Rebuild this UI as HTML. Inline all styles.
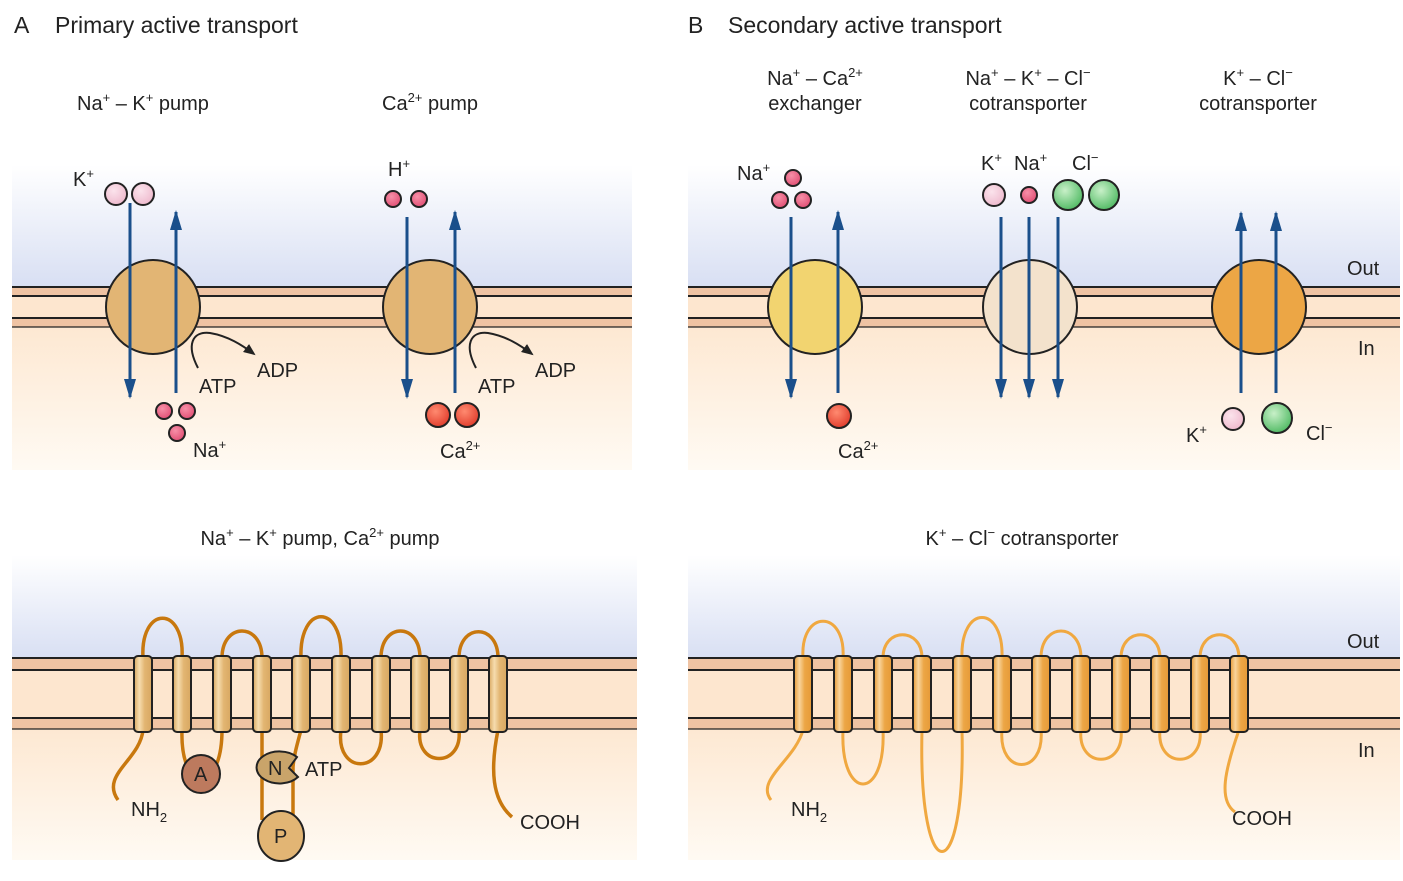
<!DOCTYPE html>
<html><head><meta charset="utf-8"><style>
html,body{margin:0;padding:0;background:#fff;}
svg{display:block;}
text{font-family:"Liberation Sans",sans-serif;fill:#222;font-size:20px;}
.sm{font-size:13px;}
</style></head><body>
<svg width="1403" height="881" viewBox="0 0 1403 881" xmlns="http://www.w3.org/2000/svg">
<defs>
<linearGradient id="gt" x1="0" y1="0" x2="0" y2="1">
<stop offset="0" stop-color="#ffffff"/><stop offset="0.4" stop-color="#d8dff3"/>
<stop offset="0.53" stop-color="#fde8d2"/><stop offset="1" stop-color="#fffaf3"/></linearGradient>
<linearGradient id="gb" x1="0" y1="0" x2="0" y2="1">
<stop offset="0" stop-color="#ffffff"/><stop offset="0.34" stop-color="#d8dff3"/>
<stop offset="0.57" stop-color="#fde8d2"/><stop offset="1" stop-color="#fffaf3"/></linearGradient>
<linearGradient id="hA" x1="0" y1="0" x2="1" y2="0"><stop offset="0" stop-color="#d9a860"/><stop offset="0.3" stop-color="#f6dcae"/><stop offset="0.6" stop-color="#e2b571"/><stop offset="1" stop-color="#d8a862"/></linearGradient>
<linearGradient id="hB" x1="0" y1="0" x2="1" y2="0"><stop offset="0" stop-color="#e89a35"/><stop offset="0.3" stop-color="#f8d49c"/><stop offset="0.6" stop-color="#eca645"/><stop offset="1" stop-color="#e69a38"/></linearGradient>
<radialGradient id="gp" cx="0.4" cy="0.35" r="0.7"><stop offset="0" stop-color="#fbe3ec"/><stop offset="1" stop-color="#eeb8cc"/></radialGradient>
<radialGradient id="gk" cx="0.4" cy="0.35" r="0.7"><stop offset="0" stop-color="#f790a8"/><stop offset="1" stop-color="#e04c72"/></radialGradient>
<radialGradient id="gr" cx="0.4" cy="0.35" r="0.7"><stop offset="0" stop-color="#ff8a70"/><stop offset="1" stop-color="#e03a2a"/></radialGradient>
<radialGradient id="gg" cx="0.4" cy="0.35" r="0.7"><stop offset="0" stop-color="#c8f0c8"/><stop offset="1" stop-color="#4cb860"/></radialGradient>
<marker id="ar" viewBox="0 0 20 12" refX="18" refY="6" markerWidth="20" markerHeight="12" markerUnits="userSpaceOnUse" orient="auto">
<path d="M0 0 L20 6 L0 12 Z" fill="#1a4f8b"/></marker>
<marker id="bk" viewBox="0 0 12 10" refX="10" refY="5" markerWidth="12" markerHeight="10" markerUnits="userSpaceOnUse" orient="auto">
<path d="M0 0 L12 5 L0 10 Z" fill="#222"/></marker>
</defs>

<rect x="12" y="165" width="620" height="305" fill="url(#gt)"/>
<rect x="688" y="165" width="712" height="305" fill="url(#gt)"/>
<rect x="12" y="555" width="625" height="305" fill="url(#gb)"/>
<rect x="688" y="555" width="712" height="305" fill="url(#gb)"/>

<g stroke="#222" stroke-width="2">
<rect x="12" y="287" width="620" height="40" fill="#fde6cf" stroke="none"/>
<rect x="12" y="287" width="620" height="9" fill="#efc3a3" stroke="none"/>
<rect x="12" y="318" width="620" height="9" fill="#efc3a3" stroke="none"/>
<line x1="12" y1="287" x2="632" y2="287"/><line x1="12" y1="296" x2="632" y2="296"/>
<line x1="12" y1="318" x2="632" y2="318"/><line x1="12" y1="327" x2="632" y2="327" stroke-width="1.2"/>
<rect x="688" y="287" width="712" height="40" fill="#fde6cf" stroke="none"/>
<rect x="688" y="287" width="712" height="9" fill="#efc3a3" stroke="none"/>
<rect x="688" y="318" width="712" height="9" fill="#efc3a3" stroke="none"/>
<line x1="688" y1="287" x2="1400" y2="287"/><line x1="688" y1="296" x2="1400" y2="296"/>
<line x1="688" y1="318" x2="1400" y2="318"/><line x1="688" y1="327" x2="1400" y2="327" stroke-width="1.2"/>

<rect x="12" y="658" width="625" height="71" fill="#fde6cf" stroke="none"/>
<rect x="12" y="658" width="625" height="12" fill="#efc3a3" stroke="none"/>
<rect x="12" y="718" width="625" height="11" fill="#efc3a3" stroke="none"/>
<line x1="12" y1="658" x2="637" y2="658"/><line x1="12" y1="670" x2="637" y2="670"/>
<line x1="12" y1="718" x2="637" y2="718"/><line x1="12" y1="729" x2="637" y2="729" stroke-width="1.2"/>
<rect x="688" y="658" width="712" height="71" fill="#fde6cf" stroke="none"/>
<rect x="688" y="658" width="712" height="12" fill="#efc3a3" stroke="none"/>
<rect x="688" y="718" width="712" height="11" fill="#efc3a3" stroke="none"/>
<line x1="688" y1="658" x2="1400" y2="658"/><line x1="688" y1="670" x2="1400" y2="670"/>
<line x1="688" y1="718" x2="1400" y2="718"/><line x1="688" y1="729" x2="1400" y2="729" stroke-width="1.2"/>
</g>

<text x="14" y="33" style="font-size:23px">A</text>
<text x="55" y="33" style="font-size:23px">Primary active transport</text>
<text x="688" y="33" style="font-size:23px">B</text>
<text x="728" y="33" style="font-size:23px">Secondary active transport</text>

<text x="77" y="110">Na<tspan class="sm" dy="-8">+</tspan><tspan dy="8"> – K</tspan><tspan class="sm" dy="-8">+</tspan><tspan dy="8"> pump</tspan></text>
<text x="382" y="110">Ca<tspan class="sm" dy="-8">2+</tspan><tspan dy="8"> pump</tspan></text>
<text x="815" y="85" text-anchor="middle">Na<tspan class="sm" dy="-8">+</tspan><tspan dy="8"> – Ca</tspan><tspan class="sm" dy="-8">2+</tspan></text>
<text x="815" y="110" text-anchor="middle">exchanger</text>
<text x="1028" y="85" text-anchor="middle">Na<tspan class="sm" dy="-8">+</tspan><tspan dy="8"> – K</tspan><tspan class="sm" dy="-8">+</tspan><tspan dy="8"> – Cl</tspan><tspan class="sm" dy="-8">−</tspan></text>
<text x="1028" y="110" text-anchor="middle">cotransporter</text>
<text x="1258" y="85" text-anchor="middle">K<tspan class="sm" dy="-8">+</tspan><tspan dy="8"> – Cl</tspan><tspan class="sm" dy="-8">−</tspan></text>
<text x="1258" y="110" text-anchor="middle">cotransporter</text>
<text x="320" y="545" text-anchor="middle">Na<tspan class="sm" dy="-8">+</tspan><tspan dy="8"> – K</tspan><tspan class="sm" dy="-8">+</tspan><tspan dy="8"> pump, Ca</tspan><tspan class="sm" dy="-8">2+</tspan><tspan dy="8"> pump</tspan></text>
<text x="1022" y="545" text-anchor="middle">K<tspan class="sm" dy="-8">+</tspan><tspan dy="8"> – Cl</tspan><tspan class="sm" dy="-8">−</tspan><tspan dy="8"> cotransporter</tspan></text>

<text x="1347" y="275">Out</text><text x="1358" y="355">In</text>
<text x="1347" y="648">Out</text><text x="1358" y="757">In</text>

<g stroke="#222" stroke-width="2">
<circle cx="153" cy="307" r="47" fill="#e2b574"/>
<circle cx="430" cy="307" r="47" fill="#e2b574"/>
<circle cx="815" cy="307" r="47" fill="#f2d470"/>
<circle cx="1030" cy="307" r="47" fill="#f3e2cc"/>
<circle cx="1259" cy="307" r="47" fill="#eca645"/>
</g>
<g stroke="#1a4f8b" stroke-width="3" fill="none">
<line x1="130" y1="203" x2="130" y2="397" marker-end="url(#ar)"/>
<line x1="176" y1="393" x2="176" y2="212" marker-end="url(#ar)"/>
<line x1="407" y1="217" x2="407" y2="397" marker-end="url(#ar)"/>
<line x1="455" y1="393" x2="455" y2="212" marker-end="url(#ar)"/>
<line x1="791" y1="217" x2="791" y2="397" marker-end="url(#ar)"/>
<line x1="838" y1="393" x2="838" y2="212" marker-end="url(#ar)"/>
<line x1="1001" y1="217" x2="1001" y2="397" marker-end="url(#ar)"/>
<line x1="1029" y1="217" x2="1029" y2="397" marker-end="url(#ar)"/>
<line x1="1058" y1="217" x2="1058" y2="397" marker-end="url(#ar)"/>
<line x1="1241" y1="393" x2="1241" y2="213" marker-end="url(#ar)"/>
<line x1="1276" y1="393" x2="1276" y2="213" marker-end="url(#ar)"/>
</g>
<g stroke="#222" stroke-width="2" fill="none">
<path d="M198 368 C186 345,192 331,210 333 C228 336,242 345,254 354" marker-end="url(#bk)"/>
<path d="M476 368 C464 345,470 331,488 333 C506 336,520 345,532 354" marker-end="url(#bk)"/>
</g>
<g stroke="#222" stroke-width="2">
<circle cx="116" cy="194" r="11" fill="url(#gp)"/><circle cx="143" cy="194" r="11" fill="url(#gp)"/>
<circle cx="164" cy="411" r="8" fill="url(#gk)"/><circle cx="187" cy="411" r="8" fill="url(#gk)"/><circle cx="177" cy="433" r="8" fill="url(#gk)"/>
<circle cx="393" cy="199" r="8" fill="url(#gk)"/><circle cx="419" cy="199" r="8" fill="url(#gk)"/>
<circle cx="438" cy="415" r="12" fill="url(#gr)"/><circle cx="467" cy="415" r="12" fill="url(#gr)"/>
<circle cx="793" cy="178" r="8" fill="url(#gk)"/><circle cx="780" cy="200" r="8" fill="url(#gk)"/><circle cx="803" cy="200" r="8" fill="url(#gk)"/>
<circle cx="839" cy="416" r="12" fill="url(#gr)"/>
<circle cx="994" cy="195" r="11" fill="url(#gp)"/><circle cx="1029" cy="195" r="8" fill="url(#gk)"/>
<circle cx="1068" cy="195" r="15" fill="url(#gg)"/><circle cx="1104" cy="195" r="15" fill="url(#gg)"/>
<circle cx="1233" cy="419" r="11" fill="url(#gp)"/><circle cx="1277" cy="418" r="15" fill="url(#gg)"/>
</g>
<text x="73" y="186">K<tspan class="sm" dy="-8">+</tspan></text>
<text x="199" y="393">ATP</text><text x="257" y="377">ADP</text>
<text x="193" y="457">Na<tspan class="sm" dy="-8">+</tspan></text>
<text x="388" y="176">H<tspan class="sm" dy="-8">+</tspan></text>
<text x="478" y="393">ATP</text><text x="535" y="377">ADP</text>
<text x="440" y="458">Ca<tspan class="sm" dy="-8">2+</tspan></text>
<text x="737" y="180">Na<tspan class="sm" dy="-8">+</tspan></text>
<text x="838" y="458">Ca<tspan class="sm" dy="-8">2+</tspan></text>
<text x="981" y="170">K<tspan class="sm" dy="-8">+</tspan></text>
<text x="1014" y="170">Na<tspan class="sm" dy="-8">+</tspan></text>
<text x="1072" y="170">Cl<tspan class="sm" dy="-8">−</tspan></text>
<text x="1186" y="442">K<tspan class="sm" dy="-8">+</tspan></text>
<text x="1306" y="440">Cl<tspan class="sm" dy="-8">−</tspan></text>

<g stroke="#c8780e" stroke-width="3.5" fill="none">
<path d="M143 658 C140 605,185 605,182 658"/>
<path d="M222 658 C222 622,262 622,262 658"/>
<path d="M301 658 C299 603,343 603,341 658"/>
<path d="M381 658 C381 622,420 622,420 658"/>
<path d="M459 658 C459 623,498 623,498 658"/>
<path d="M143 730 C140 760,100 775,118 800"/>
<path d="M182 730 C180 795,222 795,222 730"/>
<path d="M262 730 L262 820"/>
<path d="M301 730 C297 745,294 755,293 767 L293 820"/>
<path d="M341 730 C335 775,386 775,381 730"/>
<path d="M420 730 C415 768,463 768,459 730"/>
<path d="M498 730 C490 770,492 800,512 817"/>
</g>
<g stroke="#222" stroke-width="2">
<circle cx="201" cy="774" r="19" fill="#bd7a5e"/>
<path d="M297 757 A23 16 0 1 0 298 777 L289 768 Z" fill="#c9a46a"/>
<ellipse cx="281" cy="836" rx="23" ry="25" fill="#e2b574"/>
</g>
<text x="194" y="781">A</text><text x="268" y="775">N</text><text x="274" y="843">P</text>
<text x="305" y="776">ATP</text>
<text x="131" y="816">NH<tspan class="sm" dy="6">2</tspan></text>
<text x="520" y="829">COOH</text>
<g stroke="#222" stroke-width="2" fill="url(#hA)">
<rect x="134" y="656" width="18" height="76" rx="4"/><rect x="173" y="656" width="18" height="76" rx="4"/>
<rect x="213" y="656" width="18" height="76" rx="4"/><rect x="253" y="656" width="18" height="76" rx="4"/>
<rect x="292" y="656" width="18" height="76" rx="4"/><rect x="332" y="656" width="18" height="76" rx="4"/>
<rect x="372" y="656" width="18" height="76" rx="4"/><rect x="411" y="656" width="18" height="76" rx="4"/>
<rect x="450" y="656" width="18" height="76" rx="4"/><rect x="489" y="656" width="18" height="76" rx="4"/>
</g>

<g stroke="#f0a840" stroke-width="3" fill="none">
<path d="M803 658 C800 609,846 609,843 658"/>
<path d="M883 658 C883 627,922 627,922 658"/>
<path d="M962 658 C960 604,1004 604,1002 658"/>
<path d="M1041 658 C1041 622,1081 622,1081 658"/>
<path d="M1121 658 C1121 627,1160 627,1160 658"/>
<path d="M1200 658 C1200 627,1239 627,1239 658"/>
<path d="M803 730 C795 760,755 780,771 800"/>
<path d="M843 730 C840 802,886 802,883 730"/>
<path d="M922 730 C918 892,966 892,962 730"/>
<path d="M1002 730 C998 776,1045 776,1041 730"/>
<path d="M1081 730 C1077 769,1125 769,1121 730"/>
<path d="M1160 730 C1156 769,1204 769,1200 730"/>
<path d="M1239 730 C1225 770,1218 800,1235 812"/>
</g>
<text x="791" y="816">NH<tspan class="sm" dy="6">2</tspan></text>
<text x="1232" y="825">COOH</text>
<g stroke="#222" stroke-width="2" fill="url(#hB)">
<rect x="794" y="656" width="18" height="76" rx="4"/><rect x="834" y="656" width="18" height="76" rx="4"/>
<rect x="874" y="656" width="18" height="76" rx="4"/><rect x="913" y="656" width="18" height="76" rx="4"/>
<rect x="953" y="656" width="18" height="76" rx="4"/><rect x="993" y="656" width="18" height="76" rx="4"/>
<rect x="1032" y="656" width="18" height="76" rx="4"/><rect x="1072" y="656" width="18" height="76" rx="4"/>
<rect x="1112" y="656" width="18" height="76" rx="4"/><rect x="1151" y="656" width="18" height="76" rx="4"/>
<rect x="1191" y="656" width="18" height="76" rx="4"/><rect x="1230" y="656" width="18" height="76" rx="4"/>
</g>
</svg>
</body></html>
